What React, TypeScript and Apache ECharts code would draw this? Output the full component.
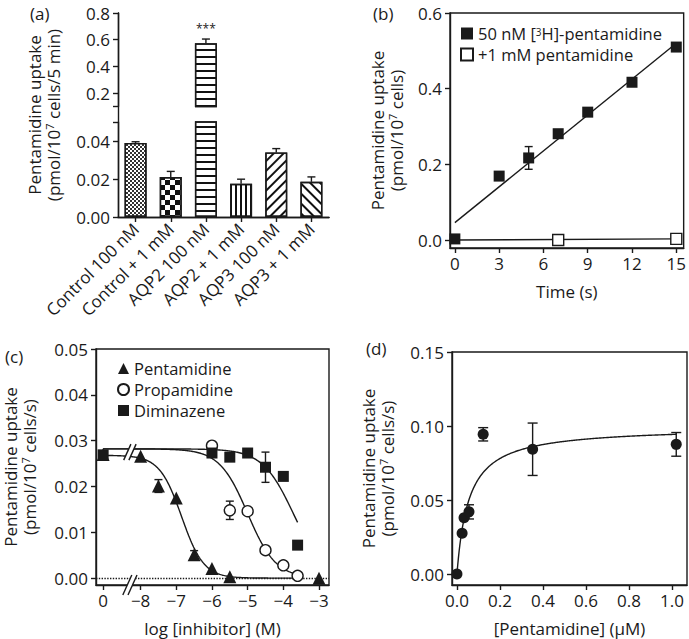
import React, { useEffect, useRef } from 'react';
import * as echarts from 'echarts';

// ---------- (a) bar chart ----------
const barCategories = ['Control 100 nM', 'Control + 1 mM', 'AQP2 100 nM', 'AQP2 + 1 mM', 'AQP3 100 nM', 'AQP3 + 1 mM'];
const barMeans = [0.039, 0.021, 0.573, 0.0175, 0.034, 0.0185];
const barSEM = [0.0006, 0.003, 0.032, 0.0024, 0.002, 0.0026];
const barSignificance = ['', '', '***', '', '', ''];
const upperTicks = [0.1, 0.2, 0.4, 0.6, 0.8];
const upperLabels = [0.2, 0.4, 0.6, 0.8];
const lowerTicks = [0, 0.02, 0.04, 0.05];
const lowerLabels = [0, 0.02, 0.04];

// ---------- (b) time course ----------
const timeSeconds = [0, 3, 5, 7, 9, 12, 15];
const uptakeTracer = [0.003, 0.169, 0.217, 0.281, 0.338, 0.417, 0.51];
const uptakeTracerErr = [0, 0, 0.03, 0, 0, 0, 0];
const timeInhibited = [7, 15];
const uptakeInhibited = [0.0, 0.003];
const tracerFit = [0.046, 0.0316]; // intercept, slope
const inhibitedFit = [0.0, 0.0002];
const timeTicks = [0, 3, 6, 9, 12, 15];
const timeFitRange = [0, 15];
const bTicks = [0, 0.2, 0.4, 0.6];

// ---------- (c) inhibition ----------
const CONTROL_LOG = -9.05; // position of the "0" (no inhibitor) point
const BREAK_LOG = -8.3;
const pentLog = [CONTROL_LOG, -8, -7.5, -7, -6.5, -6, -5.5, -3];
const pentUptake = [0.027, 0.0266, 0.0201, 0.0175, 0.0051, 0.0021, 0.0003, 0.0];
const pentErr = [0, 0, 0.0014, 0, 0.0009, 0, 0, 0];
const propLog = [-6, -5.5, -5, -4.5, -4, -3.6];
const propUptake = [0.0289, 0.0148, 0.0146, 0.0061, 0.0028, 0.0005];
const propErr = [0, 0.002, 0, 0, 0, 0];
const dimLog = [CONTROL_LOG, -6, -5.5, -5, -4.5, -4, -3.6];
const dimUptake = [0.0269, 0.0273, 0.0264, 0.0273, 0.0242, 0.0222, 0.0072];
const dimErr = [0, 0, 0, 0, 0.0033, 0, 0];
// top, bottom, logIC50, hill
const pentFit = [0.0268, 0, -6.85, 1.4];
const propFit = [0.0282, 0, -5.0, 1.1];
const dimFit = [0.0282, 0, -3.72, 1.0];
const logFitRange = [CONTROL_LOG, -3.6];
const logTicks = [CONTROL_LOG, -8, -7, -6, -5, -4, -3];
const cTicks = [0, 0.01, 0.02, 0.03, 0.04, 0.05];

// ---------- (d) kinetics ----------
const pentConc = [0, 0.024, 0.033, 0.056, 0.122, 0.352, 1.02];
const pentRate = [0.0, 0.0275, 0.038, 0.042, 0.0944, 0.0843, 0.0876];
const pentRateErr = [0, 0, 0, 0.0048, 0.0045, 0.0177, 0.008];
const mmFit = [0.0995, 0.055]; // Vmax, Km
const concFitRange = [0, 1.02];
const concTicks = [0, 0.2, 0.4, 0.6, 0.8, 1.0];
const dTicks = [0, 0.05, 0.1, 0.15];

// ---------- styling ----------
const INK = '#1a1a1a';
const FONT = 'Open Sans';
const FS = 17;
const LW = 1.4;

const gA1 = { left: 118, top: 13, width: 211, height: 93.5 };
const gA2 = { left: 118, top: 122, width: 211, height: 95 };
const gB = { left: 450, top: 13, width: 237, height: 235 };
const gC = { left: 92, top: 349, width: 237, height: 237 };
const gD = { left: 452, top: 352, width: 235, height: 233 };
const gAFull = { left: 118, top: 13, width: 211, height: 204 };

const decals: any[] = [
  { symbol: 'rect', symbolSize: 1, dashArrayX: [[2, 2], [0, 2, 2, 0]], dashArrayY: [2, 0], color: '#333', backgroundColor: '#fff' },
  { symbol: 'rect', symbolSize: 1, dashArrayX: [[5, 5], [0, 5, 5, 0]], dashArrayY: [5, 0], color: '#111', backgroundColor: '#fff' },
  { symbol: 'rect', symbolSize: 1, dashArrayX: [1, 0], dashArrayY: [2, 5], color: '#111', backgroundColor: '#fff' },
  { symbol: 'rect', symbolSize: 1, dashArrayX: [2, 3], dashArrayY: [1, 0], color: '#111', backgroundColor: '#fff' },
  { symbol: 'rect', symbolSize: 1, dashArrayX: [1, 0], dashArrayY: [2, 5], rotation: -Math.PI / 4, color: '#111', backgroundColor: '#fff' },
  { symbol: 'rect', symbolSize: 1, dashArrayX: [1, 0], dashArrayY: [2, 5], rotation: Math.PI / 4, color: '#111', backgroundColor: '#fff' },
];

const sup = { fontSize: 11, padding: [0, 0, 8, 0], fontFamily: FONT, color: INK };
const supSmall = { fontSize: 10, padding: [0, 0, 4, 0], lineHeight: 12, fontFamily: FONT, color: INK };

function sample(range: number[], n: number, f: (x: number) => number) {
  const out: number[][] = [];
  for (let i = 0; i <= n; i++) {
    const x = range[0] + ((range[1] - range[0]) * i) / n;
    out.push([x, f(x)]);
  }
  return out;
}
const logistic = (p: number[]) => (x: number) => p[1] + (p[0] - p[1]) / (1 + Math.pow(10, p[3] * (x - p[2])));

function errRender(capHalf: number, topOnly = false) {
  return (params: any, api: any) => {
    const x = api.value(0), lo = api.value(1), hi = api.value(2);
    const a = api.coord([x, lo]);
    const b = api.coord([x, hi]);
    const style = { stroke: INK, lineWidth: LW, fill: null };
    const children: any[] = [
      { type: 'line', shape: { x1: a[0], y1: a[1], x2: b[0], y2: b[1] }, style },
      { type: 'line', shape: { x1: b[0] - capHalf, y1: b[1], x2: b[0] + capHalf, y2: b[1] }, style },
    ];
    if (!topOnly) children.push({ type: 'line', shape: { x1: a[0] - capHalf, y1: a[1], x2: a[0] + capHalf, y2: a[1] }, style });
    return { type: 'group', children };
  };
}

function errData(xs: number[], ys: number[], es: number[]) {
  const out: number[][] = [];
  xs.forEach((x, i) => { if (es[i] > 0) out.push([x, ys[i] - es[i], ys[i] + es[i]]); });
  return out;
}

const axisLine = { show: true, onZero: false, lineStyle: { color: INK, width: LW } };
const axisTick = (vals: number[]) => ({ show: true, length: 5, customValues: vals, lineStyle: { color: INK, width: LW } });
const axisLabel = (vals: number[], fmt: (v: number) => string, margin = 8) => ({
  show: true, customValues: vals, formatter: fmt, color: INK, fontSize: FS, fontFamily: FONT, margin,
});
const nameStyle = { color: INK, fontSize: FS, fontFamily: FONT, lineHeight: 19, rich: { sup } };

function valueX(gridIndex: number, min: number, max: number, ticks: number[], fmt: (v: number) => string, name: string, nameGap: number) {
  return {
    type: 'value', gridIndex, min, max, axisLine, axisTick: axisTick(ticks), axisLabel: axisLabel(ticks, fmt, 7),
    splitLine: { show: false }, name, nameLocation: 'middle', nameGap, nameTextStyle: nameStyle,
  };
}
function valueY(gridIndex: number, min: number, max: number, ticks: number[], labels: number[], fmt: (v: number) => string, name = '', nameGap = 50) {
  return {
    type: 'value', gridIndex, min, max, axisLine, axisTick: axisTick(ticks), axisLabel: axisLabel(labels, fmt, 8),
    splitLine: { show: false }, name, nameLocation: 'middle', nameGap, nameTextStyle: nameStyle,
  };
}

export default function App() {
  const ref = useRef<HTMLDivElement>(null);
  useEffect(() => {
    const chart = echarts.init(ref.current!, null, { renderer: 'svg' });
    const fx2 = (v: number) => v.toFixed(2);
    const fx1 = (v: number) => v.toFixed(1);
    const logFmt = (v: number) => (v < -8.5 ? '0' : '\u2212' + Math.abs(v));

    const upperMin = 0.1;
    const lowerMax = 0.05;

    const barItems = (keep: (v: number) => boolean, withLabel: boolean) =>
      barMeans.map((v, i) => ({
        value: keep(v) ? v : '-',
        itemStyle: { color: '#fff', borderColor: INK, borderWidth: LW, decal: decals[i] },
        label: withLabel && barSignificance[i]
          ? { show: true, position: 'top', distance: 9, formatter: barSignificance[i], fontSize: 12, color: INK, fontFamily: FONT }
          : { show: false },
      }));

    const errA = barMeans.map((v, i) => [i, v, v + barSEM[i]]);
    const titleStyle = { fontSize: FS, fontWeight: 'normal', color: INK, fontFamily: FONT };
    const solid = { color: INK, opacity: 1 };
    const hollow = { color: '#fff', borderColor: INK, borderWidth: LW, opacity: 1 };

    const option: any = {
      animation: false,
      textStyle: { fontFamily: FONT, color: INK },
      title: [
        { text: '(a)', left: 25, top: 0, textStyle: titleStyle },
        { text: '(b)', left: 368, top: 0, textStyle: titleStyle },
        { text: '(c)', left: 0, top: 343, textStyle: titleStyle },
        { text: '(d)', left: 361, top: 335, textStyle: titleStyle },
      ],
      grid: [
        { ...gA1, show: false },
        { ...gA2, show: false },
        { ...gB, show: true, borderColor: INK, borderWidth: LW },
        { ...gC, show: true, borderColor: INK, borderWidth: LW },
        { ...gD, show: true, borderColor: INK, borderWidth: LW },
        { ...gAFull, show: false },
      ],
      legend: [
        {
          orient: 'vertical', left: 455, top: 20, itemWidth: 12, itemHeight: 12, itemGap: 4, selectedMode: false,
          data: [{ name: 'tracer', icon: 'rect' }, { name: 'inhibited', icon: 'rect' }],
          formatter: (n: string) => (n === 'tracer' ? '50 nM [{sup|3}H]-pentamidine' : '+1 mM pentamidine'),
          textStyle: { fontSize: 16.5, color: INK, fontFamily: FONT, lineHeight: 17, rich: { sup: supSmall } },
        },
        {
          orient: 'vertical', left: 112, top: 355, itemWidth: 11, itemHeight: 11, itemGap: 4, selectedMode: false,
          data: [{ name: 'Pentamidine', icon: 'triangle' }, { name: 'Propamidine', icon: 'circle' }, { name: 'Diminazene', icon: 'rect' }],
          textStyle: { fontSize: 16.5, color: INK, fontFamily: FONT, lineHeight: 17 },
        },
      ],
      xAxis: [
        { type: 'category', gridIndex: 0, data: barCategories, show: false },
        {
          type: 'category', gridIndex: 1, data: barCategories,
          axisLine: { show: true, lineStyle: { color: INK, width: LW } },
          axisTick: { show: true, alignWithLabel: true, length: 5, lineStyle: { color: INK, width: LW } },
          axisLabel: { interval: 0, rotate: 45, fontSize: FS, color: INK, fontFamily: FONT, margin: 9 },
        },
        valueX(2, -0.33, 15.5, timeTicks, (v) => String(v), 'Time (s)', 34),
        valueX(3, -9.25, -2.72, logTicks, logFmt, 'log [inhibitor] (M)', 34),
        valueX(4, -0.023, 1.07, concTicks, fx1, '[Pentamidine] (\u03bcM)', 34),
        {
          type: 'value', gridIndex: 5, min: 0, max: 1, position: 'top',
          axisLine: { show: true, lineStyle: { color: INK, width: LW } }, axisTick: { show: false }, axisLabel: { show: false }, splitLine: { show: false },
        },
      ],
      yAxis: [
        valueY(0, upperMin, 0.8, upperTicks, upperLabels, fx1),
        valueY(1, 0, lowerMax, lowerTicks, lowerLabels, fx2),
        valueY(2, -0.021, 0.6, bTicks, bTicks, fx1, 'Pentamidine uptake\n(pmol/10{sup|7} cells)', 44),
        valueY(3, -0.0015, 0.05, cTicks, cTicks, fx2, 'Pentamidine uptake\n(pmol/10{sup|7} cells/s)', 57),
        valueY(4, -0.0074, 0.15, dTicks, dTicks, fx2, 'Pentamidine uptake\n(pmol/10{sup|7} cells/s)', 55),
        {
          type: 'value', gridIndex: 5, min: 0, max: 1, position: 'right',
          axisLine: { show: true, lineStyle: { color: INK, width: LW } }, axisTick: { show: false }, axisLabel: { show: false }, splitLine: { show: false },
        },
        {
          type: 'value', gridIndex: 5, min: 0, max: 1, position: 'left',
          axisLine: { show: false }, axisTick: { show: false }, axisLabel: { show: false }, splitLine: { show: false },
          name: 'Pentamidine uptake\n(pmol/10{sup|7} cells/5 min)', nameLocation: 'middle', nameGap: 55, nameTextStyle: nameStyle,
        },
      ],
      series: [
        // (a)
        { type: 'bar', xAxisIndex: 0, yAxisIndex: 0, barWidth: 22, clip: true, data: barItems((v) => v > upperMin, true), z: 2 },
        { type: 'bar', xAxisIndex: 1, yAxisIndex: 1, barWidth: 22, clip: true, data: barItems(() => true, false), z: 2 },
        { type: 'custom', xAxisIndex: 0, yAxisIndex: 0, encode: { x: 0, y: [1, 2] }, renderItem: errRender(4, true), data: errA.filter((d) => d[1] > upperMin), z: 3 },
        { type: 'custom', xAxisIndex: 1, yAxisIndex: 1, encode: { x: 0, y: [1, 2] }, renderItem: errRender(4, true), data: errA.filter((d) => d[2] < lowerMax), z: 3 },
        // (b)
        {
          name: 'tracer', type: 'scatter', xAxisIndex: 2, yAxisIndex: 2, symbol: 'rect', symbolSize: 11,
          itemStyle: solid, data: timeSeconds.map((t, i) => [t, uptakeTracer[i]]), z: 5,
        },
        {
          name: 'inhibited', type: 'scatter', xAxisIndex: 2, yAxisIndex: 2, symbol: 'rect', symbolSize: 11,
          itemStyle: hollow, data: timeInhibited.map((t, i) => [t, uptakeInhibited[i]]), z: 5,
        },
        {
          type: 'line', xAxisIndex: 2, yAxisIndex: 2, showSymbol: false, symbol: 'none', lineStyle: { color: INK, width: LW },
          data: sample(timeFitRange, 1, (x) => tracerFit[0] + tracerFit[1] * x), z: 3,
        },
        {
          type: 'line', xAxisIndex: 2, yAxisIndex: 2, showSymbol: false, symbol: 'none', lineStyle: { color: INK, width: LW },
          data: sample(timeFitRange, 1, (x) => inhibitedFit[0] + inhibitedFit[1] * x), z: 3,
        },
        { type: 'custom', xAxisIndex: 2, yAxisIndex: 2, encode: { x: 0, y: [1, 2] }, renderItem: errRender(4), data: errData(timeSeconds, uptakeTracer, uptakeTracerErr), z: 4 },
        // (c)
        {
          type: 'line', xAxisIndex: 3, yAxisIndex: 3, showSymbol: false, symbol: 'none', lineStyle: { color: INK, width: LW },
          data: sample(logFitRange, 200, logistic(pentFit)), z: 3,
          markLine: {
            silent: true, symbol: 'none', label: { show: false },
            lineStyle: { type: 'dotted', color: INK, width: LW }, data: [{ yAxis: 0 }],
          },
        },
        { type: 'line', xAxisIndex: 3, yAxisIndex: 3, showSymbol: false, symbol: 'none', lineStyle: { color: INK, width: LW }, data: sample(logFitRange, 200, logistic(propFit)), z: 3 },
        { type: 'line', xAxisIndex: 3, yAxisIndex: 3, showSymbol: false, symbol: 'none', lineStyle: { color: INK, width: LW }, data: sample(logFitRange, 200, logistic(dimFit)), z: 3 },
        {
          name: 'Pentamidine', type: 'scatter', xAxisIndex: 3, yAxisIndex: 3, symbol: 'triangle', symbolSize: 13,
          itemStyle: solid, data: pentLog.map((x, i) => [x, pentUptake[i]]), z: 5,
        },
        {
          name: 'Propamidine', type: 'scatter', xAxisIndex: 3, yAxisIndex: 3, symbol: 'circle', symbolSize: 11,
          itemStyle: hollow, data: propLog.map((x, i) => [x, propUptake[i]]), z: 5,
        },
        {
          name: 'Diminazene', type: 'scatter', xAxisIndex: 3, yAxisIndex: 3, symbol: 'rect', symbolSize: 11,
          itemStyle: solid, data: dimLog.map((x, i) => [x, dimUptake[i]]), z: 6,
        },
        {
          type: 'custom', xAxisIndex: 3, yAxisIndex: 3, encode: { x: 0, y: [1, 2] }, renderItem: errRender(4), z: 4,
          data: [...errData(pentLog, pentUptake, pentErr), ...errData(propLog, propUptake, propErr), ...errData(dimLog, dimUptake, dimErr)],
        },
        // (d)
        {
          type: 'line', xAxisIndex: 4, yAxisIndex: 4, showSymbol: false, symbol: 'none', lineStyle: { color: INK, width: LW },
          data: sample(concFitRange, 300, (x) => (mmFit[0] * x) / (mmFit[1] + x)), z: 3,
        },
        {
          type: 'scatter', xAxisIndex: 4, yAxisIndex: 4, symbol: 'circle', symbolSize: 11,
          itemStyle: solid, data: pentConc.map((x, i) => [x, pentRate[i]]), z: 5,
        },
        { type: 'custom', xAxisIndex: 4, yAxisIndex: 4, encode: { x: 0, y: [1, 2] }, renderItem: errRender(5), data: errData(pentConc, pentRate, pentRateErr), z: 4 },
      ],
    };
    chart.setOption(option);

    // axis-break marks in (c)
    const pAxis = chart.convertToPixel({ xAxisIndex: 3, yAxisIndex: 3 } as any, [BREAK_LOG, -0.0015]) as number[];
    const pCurve = chart.convertToPixel({ xAxisIndex: 3, yAxisIndex: 3 } as any, [BREAK_LOG, 0.0275]) as number[];
    const breakMark = (cx: number, cy: number, hh: number) => {
      const dx = hh * 0.45, gap = 2.6;
      return [
        { type: 'polygon', z: 50, shape: { points: [[cx - gap - dx, cy + hh], [cx + gap - dx, cy + hh], [cx + gap + dx, cy - hh], [cx - gap + dx, cy - hh]] }, style: { fill: '#fff' } },
        { type: 'line', z: 51, shape: { x1: cx - gap - dx, y1: cy + hh, x2: cx - gap + dx, y2: cy - hh }, style: { stroke: INK, lineWidth: LW } },
        { type: 'line', z: 51, shape: { x1: cx + gap - dx, y1: cy + hh, x2: cx + gap + dx, y2: cy - hh }, style: { stroke: INK, lineWidth: LW } },
      ];
    };
    chart.setOption({ graphic: [...breakMark(pAxis[0], pAxis[1], 10), ...breakMark(pCurve[0], pCurve[1], 8)] });

    return () => chart.dispose();
  }, []);
  return <div ref={ref} style={{ position: 'fixed', left: 0, top: 0, width: 689, height: 639, background: '#fff' }} />;
}
